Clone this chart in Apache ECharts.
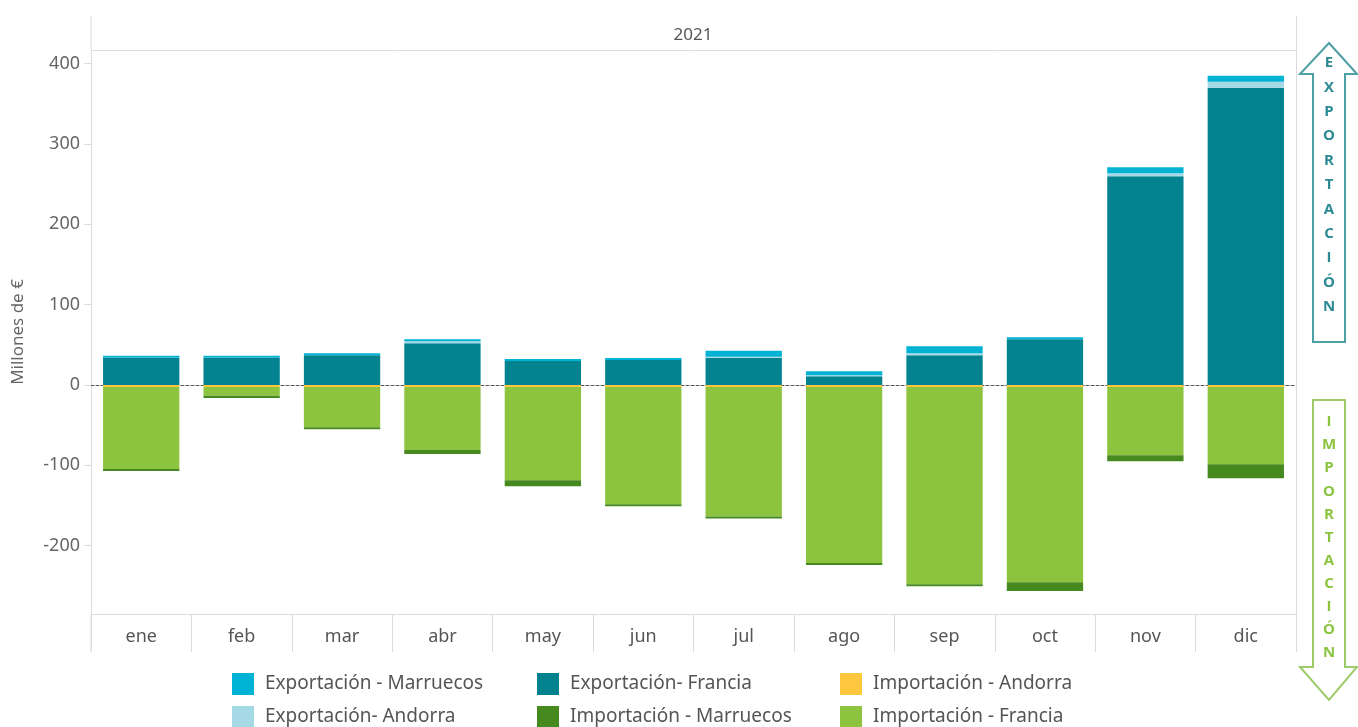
<!DOCTYPE html>
<html>
<head>
<meta charset="utf-8">
<title>Comercio exterior 2021</title>
<script src="https://cdn.jsdelivr.net/npm/echarts@6/dist/echarts.min.js"></script>
<style>
  html, body { margin: 0; padding: 0; background: #fff; }
  #chart { width: 1358px; height: 727px; }
</style>
</head>
<body>
<div id="chart"></div>
<script>
// Months of 2021
const months = ['ene', 'feb', 'mar', 'abr', 'may', 'jun', 'jul', 'ago', 'sep', 'oct', 'nov', 'dic'];

// Exports (millions of euros, positive)
const expFrancia   = [34, 34, 37, 52, 30, 31, 34, 11, 37, 57, 260, 370];
const expAndorra   = [0, 0, 0, 2.5, 0, 0, 1.2, 1.2, 2.5, 0, 3.7, 7.5];
const expMarruecos = [2.5, 2.5, 2.5, 2.5, 2.5, 2.5, 7.5, 5, 8.7, 2.5, 7.5, 7.5];

// Imports (millions of euros, negative)
const impAndorra   = [-2.5, -2.5, -2.5, -2.5, -2.5, -2.5, -2.5, -2.5, -2.5, -2.5, -2.5, -2.5];
const impFrancia   = [-102, -11, -50, -78.5, -116, -146, -161, -219, -245.5, -243, -85, -96];
const impMarruecos = [-2.5, -2.5, -2.5, -5, -7.5, -2.5, -2.5, -2.5, -2.5, -11, -7.5, -17.5];

// Value axis tick labels
const yTicks = [-200, -100, 0, 100, 200, 300, 400];
const yMin = -285;
const yMax = 417;

const headerLabel = '2021';
const yAxisName = 'Millones de €';
const exportWord = 'EXPORTACIÓN';
const importWord = 'IMPORTACIÓN';

const colors = {
  expMarruecos: '#00B2D4',
  expAndorra: '#A6D9E6',
  expFrancia: '#02838F',
  impAndorra: '#FCC73F',
  impMarruecos: '#46891E',
  impFrancia: '#8CC43F'
};

const seriesDefs = [
  { name: 'Exportación- Francia',     data: expFrancia,   color: colors.expFrancia },
  { name: 'Exportación- Andorra',     data: expAndorra,   color: colors.expAndorra },
  { name: 'Exportación - Marruecos',  data: expMarruecos, color: colors.expMarruecos },
  { name: 'Importación - Andorra',    data: impAndorra,   color: colors.impAndorra },
  { name: 'Importación - Francia',    data: impFrancia,   color: colors.impFrancia },
  { name: 'Importación - Marruecos',  data: impMarruecos, color: colors.impMarruecos }
];

const font = '"Noto Sans", "Open Sans", sans-serif';
const gridLine = '#dcdcdc';

// Legend laid out as a 3 x 2 table
const legendCells = [
  { name: 'Exportación - Marruecos', left: 232, top: 673 },
  { name: 'Exportación- Francia',    left: 537, top: 673 },
  { name: 'Importación - Andorra',   left: 840, top: 673 },
  { name: 'Exportación- Andorra',    left: 232, top: 706 },
  { name: 'Importación - Marruecos', left: 537, top: 706 },
  { name: 'Importación - Francia',   left: 840, top: 706 }
];

const legends = legendCells.map(c => ({
  data: [c.name],
  left: c.left,
  top: c.top,
  padding: 0,
  icon: 'rect',
  itemWidth: 22,
  itemHeight: 22,
  selectedMode: false,
  textStyle: { fontFamily: font, fontSize: 19, color: '#555', padding: [0, 0, 0, 6] }
}));

// Vertical arrow with stacked letters
function arrowGraphics(points, word, yStart, step, stroke, textColor) {
  const els = [{
    type: 'polygon',
    shape: { points: points },
    style: { fill: '#fff', stroke: stroke, lineWidth: 2 },
    z: 10
  }];
  word.split('').forEach((ch, i) => {
    els.push({
      type: 'text',
      x: 1329,
      y: yStart + i * step,
      style: {
        text: ch,
        fill: textColor,
        font: 'bold 15px "Open Sans", sans-serif',
        align: 'center',
        verticalAlign: 'middle'
      },
      z: 11
    });
  });
  return els;
}

const graphics = [
  // header band
  { type: 'line', shape: { x1: 91, y1: 16, x2: 91, y2: 50 }, style: { stroke: gridLine, lineWidth: 1 } },
  { type: 'line', shape: { x1: 1296.5, y1: 16, x2: 1296.5, y2: 652 }, style: { stroke: gridLine, lineWidth: 1 } },
  { type: 'line', shape: { x1: 91, y1: 50.5, x2: 1296, y2: 50.5 }, style: { stroke: gridLine, lineWidth: 1 } },
  { type: 'line', shape: { x1: 91, y1: 614, x2: 91, y2: 652 }, style: { stroke: gridLine, lineWidth: 1 } },
  {
    type: 'text', x: 693, y: 35,
    style: { text: headerLabel, fill: '#555', font: '17px ' + font, align: 'center', verticalAlign: 'middle' }
  }
].concat(
  arrowGraphics([[1329, 43], [1357, 74], [1345, 74], [1345, 342], [1313, 342], [1313, 74], [1300, 74]],
    exportWord, 63, 24.4, '#4E9FA6', '#2B8A93'),
  arrowGraphics([[1313, 400], [1345, 400], [1345, 667], [1357, 667], [1329, 700], [1300, 667], [1313, 667]],
    importWord, 422, 23.1, '#9DCB6A', '#8CC43F')
);

const option = {
  animation: false,
  backgroundColor: '#fff',
  grid: { left: 91, right: 62, top: 50, bottom: 113, containLabel: false },
  legend: legends,
  xAxis: [
    {
      type: 'category',
      data: months,
      position: 'bottom',
      axisLine: { onZero: false, lineStyle: { color: gridLine, width: 1 } },
      axisTick: { show: true, length: 38, lineStyle: { color: gridLine } },
      axisLabel: { fontFamily: font, fontSize: 18, color: '#555', margin: 14 },
      splitLine: { show: false }
    },
    {
      // dashed zero baseline
      type: 'category',
      data: months,
      position: 'bottom',
      axisLine: { show: true, onZero: true, lineStyle: { color: '#555', width: 1, type: [3, 2] } },
      axisTick: { show: false },
      axisLabel: { show: false },
      splitLine: { show: false }
    }
  ],
  yAxis: {
    type: 'value',
    min: yMin,
    max: yMax,
    name: yAxisName,
    nameLocation: 'middle',
    nameGap: 64,
    nameTextStyle: { fontFamily: font, fontSize: 17, color: '#666' },
    axisLine: { show: true, lineStyle: { color: gridLine } },
    axisTick: { show: true, length: 7, customValues: yTicks, lineStyle: { color: gridLine } },
    axisLabel: { fontFamily: font, fontSize: 18, color: '#666', margin: 11, customValues: yTicks },
    splitLine: { show: false }
  },
  series: seriesDefs.map(s => ({
    name: s.name,
    type: 'bar',
    stack: 'total',
    xAxisIndex: 0,
    data: s.data,
    barWidth: '76%',
    itemStyle: { color: s.color },
    emphasis: { disabled: true }
  })),
  graphic: graphics
};

const chart = echarts.init(document.getElementById('chart'), null, { renderer: 'canvas' });
chart.setOption(option);
</script>
</body>
</html>
